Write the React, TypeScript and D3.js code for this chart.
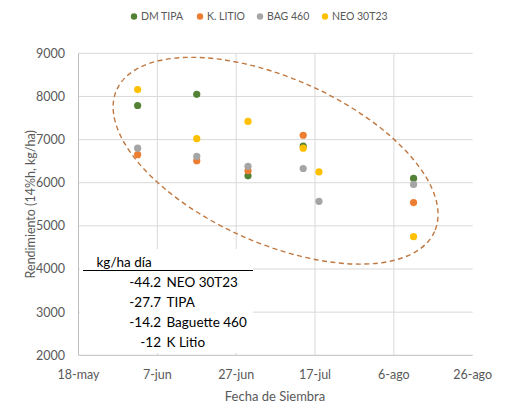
import React from "react";
import * as d3 from "d3";

const dates = ["2023-06-02", "2023-06-17", "2023-06-30", "2023-07-14", "2023-07-18", "2023-08-11"];
const dmTipa = [7790, 8050, 6160, 6850, null, 6100];
const kLitio = [6650, 6510, 6280, 7100, null, 5540];
const bag460 = [6800, 6610, 6380, 6330, 5570, 5960];
const neo30t23 = [8160, 7020, 7420, 6800, 6250, 4750];

const seriesNames = ["DM TIPA", "K. LITIO", "BAG 460", "NEO 30T23"];
const seriesColors = ["#548235", "#ed7d31", "#a5a5a5", "#ffc000"];
const seriesValues = [dmTipa, kLitio, bag460, neo30t23];

const xTicks = ["2023-05-18", "2023-06-07", "2023-06-27", "2023-07-17", "2023-08-06", "2023-08-26"];
const xTickLabels = ["18-may", "7-jun", "27-jun", "17-jul", "6-ago", "26-ago"];
const yTicks = [2000, 3000, 4000, 5000, 6000, 7000, 8000, 9000];

const slopeValues = ["-44.2", "-27.7", "-14.2", "-12"];
const slopeNames = ["NEO 30T23", "TIPA", "Baguette 460", "K Litio"];

// ellipse annotation centre (in data space)
const ellipseDate = "2023-07-07";
const ellipseValue = 6510;

const width = 530;
const height = 419;
const font = "Lato, 'Open Sans', sans-serif";

export default function App() {
  const x = d3
    .scaleTime()
    .domain([new Date(xTicks[0]), new Date(xTicks[xTicks.length - 1])])
    .range([78.5, 472.7]);
  const y = d3.scaleLinear().domain([2000, 9000]).range([355.3, 53.3]);

  const legendX = [134, 200, 260, 325];

  const ex = x(new Date(ellipseDate));
  const ey = y(ellipseValue);

  return (
    <>
      <style>{`body{margin:0}`}</style>
      <svg width={width} height={height} style={{ display: "block", background: "#fff" }} fontFamily={font}>
        {/* gridlines */}
        {yTicks.slice(1).map((t) => (
          <line key={"gy" + t} x1={x.range()[0]} x2={x.range()[1]} y1={y(t)} y2={y(t)} stroke="#d9d9d9" strokeWidth={1} />
        ))}
        {xTicks.slice(1, -1).map((t) => (
          <line key={"gx" + t} x1={x(new Date(t))} x2={x(new Date(t))} y1={y(9000)} y2={y(2000)} stroke="#d9d9d9" strokeWidth={1} />
        ))}
        {/* axes */}
        <line x1={x.range()[0]} x2={x.range()[1]} y1={y(2000)} y2={y(2000)} stroke="#bfbfbf" />
        <line x1={x.range()[0]} x2={x.range()[0]} y1={y(9000)} y2={y(2000)} stroke="#bfbfbf" />

        {yTicks.map((t) => (
          <text key={"yl" + t} x={65} y={y(t)} dy="0.35em" textAnchor="end" fontSize={12.5} fill="#595959">
            {t}
          </text>
        ))}
        {xTicks.map((t, i) => (
          <text key={"xl" + t} x={x(new Date(t))} y={379} textAnchor="middle" fontSize={12.5} fill="#595959">
            {xTickLabels[i]}
          </text>
        ))}
        <text x={275} y={401} textAnchor="middle" fontSize={13} fill="#595959">
          Fecha de Siembra
        </text>
        <text
          transform={`translate(35, ${(y(9000) + y(2000)) / 2}) rotate(-90)`}
          textAnchor="middle"
          fontSize={12.5}
          fill="#595959"
        >
          Rendimiento (14%h, kg/ha)
        </text>

        {/* points */}
        {seriesValues.map((vals, si) =>
          vals.map((v, i) =>
            v == null ? null : (
              <circle key={si + "-" + i} cx={x(new Date(dates[i]))} cy={y(v)} r={3.6} fill={seriesColors[si]} />
            )
          )
        )}

        {/* dashed ellipse */}
        <ellipse
          cx={ex}
          cy={ey}
          rx={174}
          ry={82.5}
          transform={`rotate(24, ${ex}, ${ey})`}
          fill="none"
          stroke="#c07840"
          strokeWidth={1.4}
          strokeDasharray="5,3.5"
        />

        {/* text box */}
        <rect x={80} y={249} width={173} height={104} fill="#fff" />
        <text x={96.5} y={267} fontSize={13.5} fill="#000">
          kg/ha día
        </text>
        <line x1={83} x2={253} y1={270.5} y2={270.5} stroke="#000" strokeWidth={1} />
        {slopeValues.map((s, i) => (
          <g key={"s" + i}>
            <text x={161} y={287 + i * 20} textAnchor="end" fontSize={13.5} fill="#000">
              {s}
            </text>
            <text x={166.5} y={287 + i * 20} fontSize={13.5} fill="#000">
              {slopeNames[i]}
            </text>
          </g>
        ))}

        {/* legend */}
        {seriesNames.map((n, i) => (
          <g key={"lg" + n}>
            <circle cx={legendX[i]} cy={16.5} r={3.2} fill={seriesColors[i]} />
            <text x={legendX[i] + 7} y={16} dy="0.35em" fontSize={10.5} fill="#595959">
              {n}
            </text>
          </g>
        ))}
      </svg>
    </>
  );
}
